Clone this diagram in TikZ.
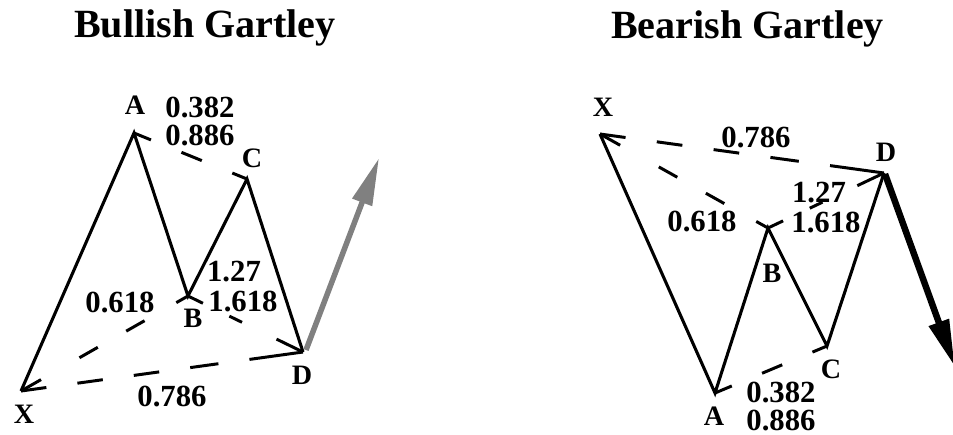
\documentclass[tikz,border=0pt]{standalone}
\usepackage{fontspec}
\setmainfont{Liberation Serif}
\usetikzlibrary{arrows.meta,calc}
\begin{document}
\begin{tikzpicture}[x=0.02cm,y=-0.02cm,
  leg/.style={line width=1.75pt, line join=miter},
  ratio/.style={line width=1.7pt},
  vlabel/.style={font=\fontsize{16}{18}\selectfont\bfseries, inner sep=0pt},
  num/.style={font=\fontsize{17.5}{20}\selectfont\bfseries, inner sep=0pt},
  title/.style={font=\fontsize{22.8}{26}\selectfont\bfseries, inner sep=0pt, anchor=base},
  trend/.style={line width=0.11cm, -{Triangle[length=0.95cm,width=0.4cm]}}]
\useasboundingbox (0,0) rectangle (953,434);
\clip (0,0) rectangle (953,434);

% ---------- Bullish ----------
\node[title] (t1) at (205,37.5) {Bullish Gartley};
\coordinate (lX) at (21,391);
\coordinate (lA) at (134,133);
\coordinate (lB) at (188,296);
\coordinate (lC) at (247,179);
\coordinate (lD) at (303,352);
\coordinate (gS) at (306,350);
\coordinate (gT) at (379,158);

\foreach \s/\e in {0/0.09,0.2/0.29,0.4/0.49,0.6/0.7,0.81/1}
  \draw[ratio] ($(lX)!\s!(lD)$) -- ($(lX)!\e!(lD)$);
\foreach \s/\e in {0/0.12,0.35/0.46,0.63/0.74,0.93/1}
  \draw[ratio] ($(lX)!\s!(lB)$) -- ($(lX)!\e!(lB)$);
\foreach \s/\e in {0/0.13,0.36/0.47,0.77/1}
  \draw[ratio] ($(lB)!\s!(lD)$) -- ($(lB)!\e!(lD)$);
\foreach \s/\e in {0/0.15,0.42/0.6,0.87/1}
  \draw[ratio] ($(lA)!\s!(lC)$) -- ($(lA)!\e!(lC)$);
\draw[leg] (lX) -- (lA) -- (lB) -- (lC) -- (lD);
\draw[trend, color={rgb,255:red,128;green,128;blue,128}] (gS) -- (gT);

\node[vlabel] (nlX) at (24,414) {X};
\node[vlabel] (nlA) at (135,105) {A};
\node[vlabel] (nlB) at (193,318) {B};
\node[vlabel] (nlC) at (252,158) {C};
\node[vlabel] (nlD) at (302,375) {D};
\node[num] (l382) at (200,107) {0.382};
\node[num] (l886) at (200,135) {0.886};
\node[num] (l618) at (120,302) {0.618};
\node[num] (l127) at (234,272) {1.27};
\node[num] (l1618) at (243,301) {1.618};
\node[num] (l786) at (172,396) {0.786};

% ---------- Bearish ----------
\node[title] (t2) at (747.5,38) {Bearish Gartley};
\coordinate (rX) at (600,134);
\coordinate (rA) at (715,393);
\coordinate (rB) at (768,228);
\coordinate (rC) at (827,346);
\coordinate (rD) at (884,173);
\coordinate (bS) at (885,174);
\coordinate (bT) at (955,367);

\foreach \s/\e in {0/0.09,0.2/0.29,0.4/0.49,0.6/0.7,0.81/1}
  \draw[ratio] ($(rX)!\s!(rD)$) -- ($(rX)!\e!(rD)$);
\foreach \s/\e in {0/0.12,0.35/0.46,0.63/0.74,0.93/1}
  \draw[ratio] ($(rX)!\s!(rB)$) -- ($(rX)!\e!(rB)$);
\foreach \s/\e in {0/0.13,0.36/0.47,0.77/1}
  \draw[ratio] ($(rB)!\s!(rD)$) -- ($(rB)!\e!(rD)$);
\foreach \s/\e in {0/0.15,0.42/0.6,0.87/1}
  \draw[ratio] ($(rA)!\s!(rC)$) -- ($(rA)!\e!(rC)$);
\draw[leg] (rX) -- (rA) -- (rB) -- (rC) -- (rD);
\draw[trend, color=black, line width=0.13cm] (bS) -- (bT);

\node[vlabel] (nrX) at (603,107) {X};
\node[vlabel] (nrA) at (714,416) {A};
\node[vlabel] (nrB) at (772,273) {B};
\node[vlabel] (nrC) at (831,369) {C};
\node[vlabel] (nrD) at (886,152) {D};
\node[num] (r786) at (756,137) {0.786};
\node[num] (r618) at (702,221) {0.618};
\node[num] (r127) at (819,193) {1.27};
\node[num] (r1618) at (826,222) {1.618};
\node[num] (r382) at (781,392) {0.382};
\node[num] (r886) at (781,420) {0.886};
\end{tikzpicture}
\end{document}
